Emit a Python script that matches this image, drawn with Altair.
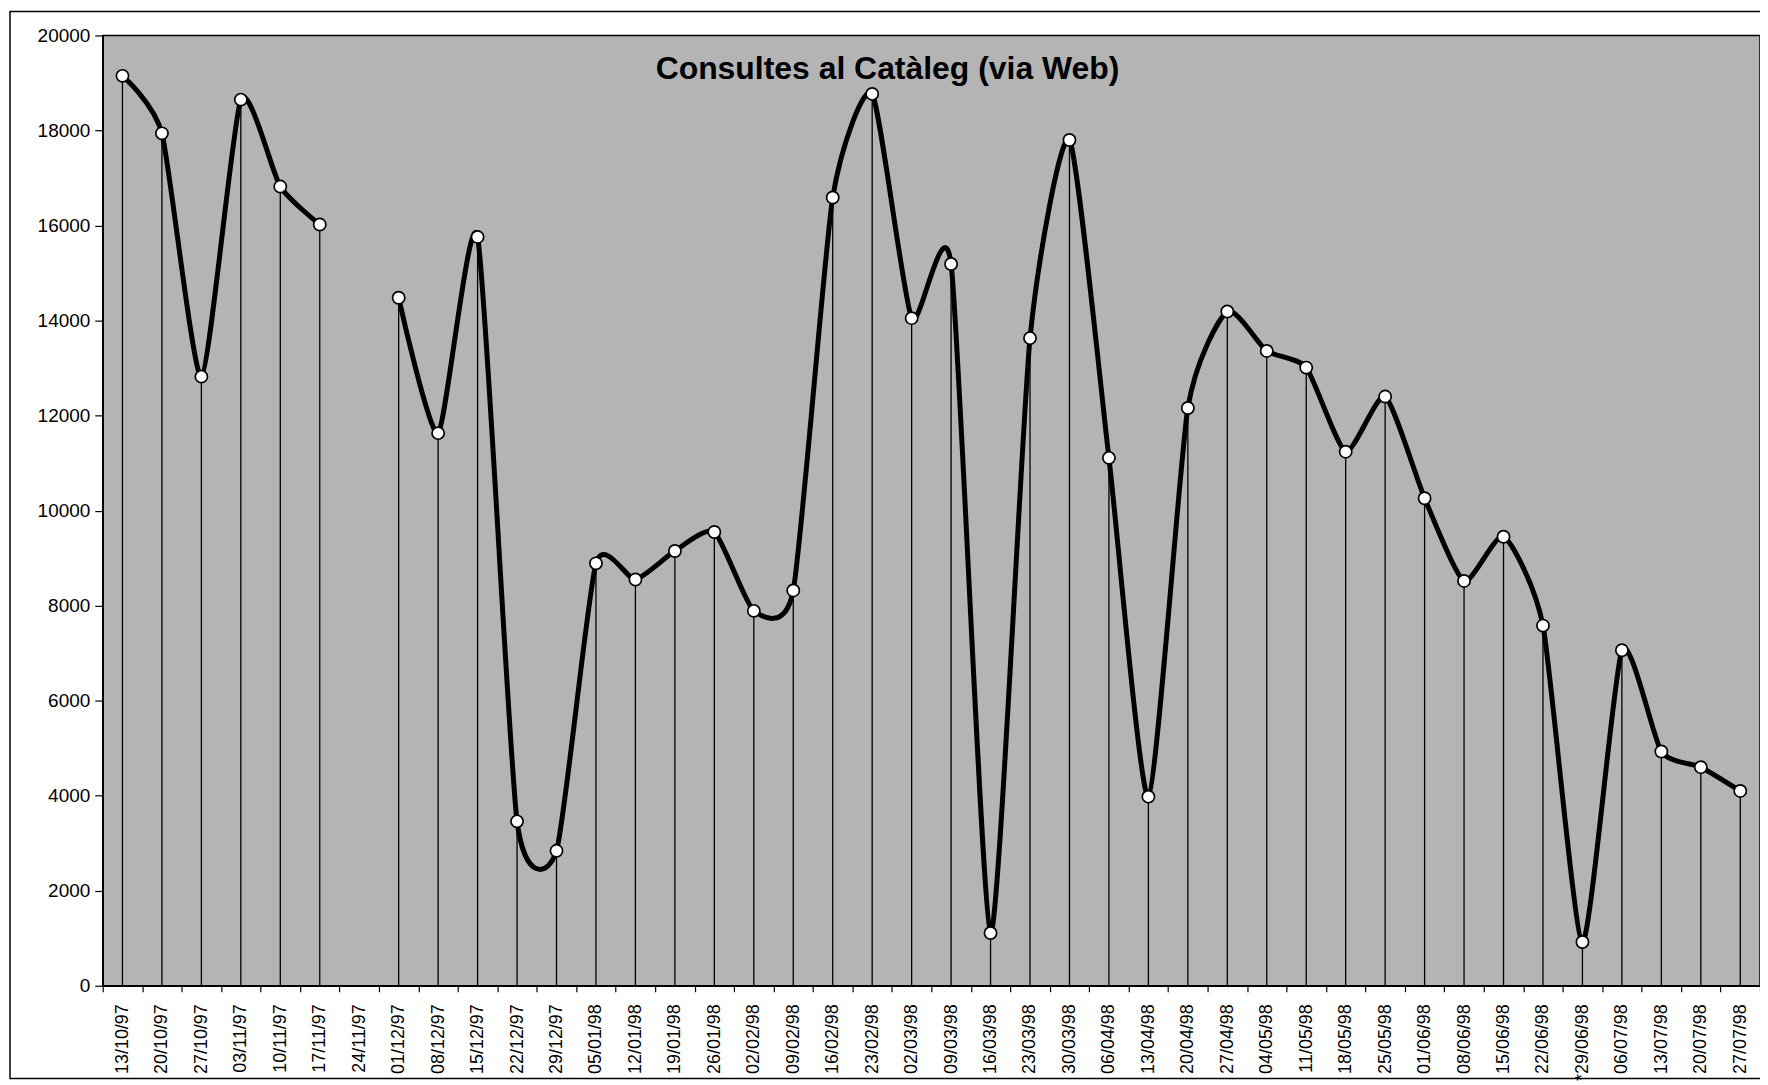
import altair as alt
import pandas as pd

# ---- data ----
dates = [
    "13/10/97", "20/10/97", "27/10/97", "03/11/97", "10/11/97", "17/11/97",
    "24/11/97", "01/12/97", "08/12/97", "15/12/97", "22/12/97", "29/12/97",
    "05/01/98", "12/01/98", "19/01/98", "26/01/98", "02/02/98", "09/02/98",
    "16/02/98", "23/02/98", "02/03/98", "09/03/98", "16/03/98", "23/03/98",
    "30/03/98", "06/04/98", "13/04/98", "20/04/98", "27/04/98", "04/05/98",
    "11/05/98", "18/05/98", "25/05/98", "01/06/98", "08/06/98", "15/06/98",
    "22/06/98", "*29/06/98", "06/07/98", "13/07/98", "20/07/98", "27/07/98",
]
consultes = [
    19150, 17940, 12820, 18650, 16820, 16020,
    None, 14480, 11630, 15760, 3460, 2840,
    8890, 8550, 9150, 9550, 7890, 8320,
    16590, 18770, 14050, 15190, 1110, 13630,
    17800, 11110, 3980, 12160, 14190, 13360,
    13010, 11240, 12400, 10260, 8520, 9450,
    7580, 920, 7060, 4930, 4600, 4100,
]
y_ticks = [0, 2000, 4000, 6000, 8000, 10000, 12000, 14000, 16000, 18000, 20000]
title_text = "Consultes al Catàleg (via Web)"

df = pd.DataFrame({"data": dates, "consultes": consultes})
df["tram"] = df["consultes"].isna().cumsum()
valid = df.dropna()

W, H = 1662, 953
FONT = "Liberation Sans"

x_enc = alt.X(
    "data:N",
    sort=dates,
    bandPosition=0.5,
    scale=alt.Scale(type="band", domain=dates, paddingInner=0, paddingOuter=0),
    axis=alt.Axis(
        title=None, labelAngle=-90, labelAlign="right", labelBaseline="middle",
        labelFont=FONT, labelFontSize=18, labelColor="black", labelPadding=12,
        tickBand="extent", tickSize=6, tickColor="black", tickWidth=1.2,
        domainColor="black", domainWidth=1.5, grid=False, labelOverlap=False,
    ),
)
y_enc = alt.Y(
    "consultes:Q",
    scale=alt.Scale(domain=[0, 20000], nice=False),
    axis=alt.Axis(
        title=None, values=y_ticks, format="d", labelFont=FONT, labelFontSize=19,
        labelColor="black", labelPadding=5, tickSize=8, tickColor="black",
        tickWidth=1.2, domainColor="black", domainWidth=1.5, grid=False,
    ),
)

base = alt.Chart(valid).encode(x=x_enc, y=y_enc)

rules = base.mark_rule(color="black", strokeWidth=1.3).encode(y2=alt.datum(0))
line = base.mark_line(
    color="black", strokeWidth=5, interpolate="cardinal", tension=0.4
).encode(detail="tram:N")
points = base.mark_point(
    filled=True, fill="white", stroke="black", strokeWidth=1.7, size=150, opacity=1
)

title = alt.Chart(pd.DataFrame({"t": [title_text]})).mark_text(
    font=FONT, fontSize=32, fontWeight="bold", color="black",
    align="center", baseline="alphabetic",
).encode(text="t:N", x=alt.value(787), y=alt.value(44))

frame = alt.Chart(pd.DataFrame({"k": [0]})).mark_rect(
    fillOpacity=0, stroke="black", strokeWidth=1.5
).encode(
    x=alt.value(-93), x2=alt.value(W + 60), y=alt.value(-24), y2=alt.value(H + 93)
)

chart = (
    alt.layer(rules, line, points, title, frame)
    .properties(
        width=W, height=H,
        padding={"left": 95, "top": 26, "right": 0, "bottom": 96},
        autosize=alt.AutoSizeParams(type="none"),
    )
    .configure(background="white")
    .configure_view(fill="#b4b4b4", stroke="black", strokeWidth=1.5)
)

chart.save("out.html", embed_options={"renderer": "svg", "actions": False})
